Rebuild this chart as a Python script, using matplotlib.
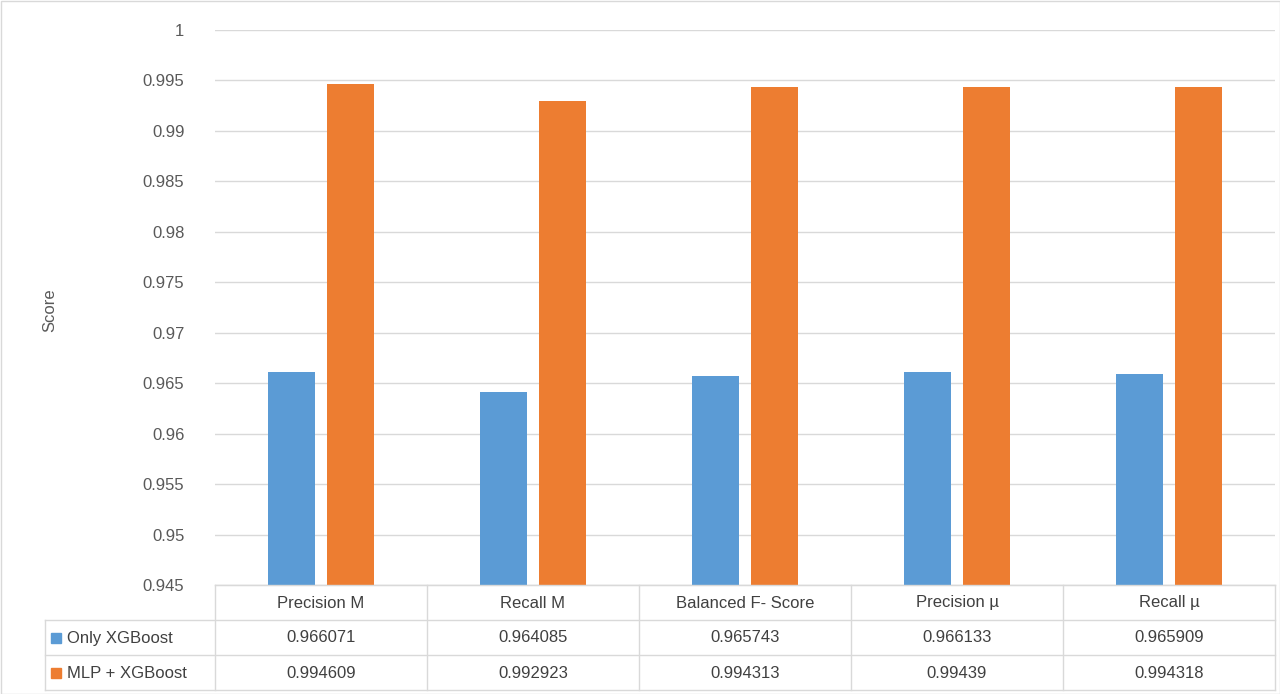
import matplotlib
matplotlib.use("Agg")
import matplotlib.pyplot as plt
import numpy as np

categories = ["Precision M", "Recall M", "Balanced F- Score", "Precision µ", "Recall µ"]
series_names = ["Only XGBoost", "MLP + XGBoost"]
xgb = [0.966071, 0.964085, 0.965743, 0.966133, 0.965909]
mlp = [0.994609, 0.992923, 0.994313, 0.99439, 0.994318]
xgb_txt = ["0.966071", "0.964085", "0.965743", "0.966133", "0.965909"]
mlp_txt = ["0.994609", "0.992923", "0.994313", "0.99439", "0.994318"]
colors = ["#5B9BD5", "#ED7D31"]
yticks = [0.945, 0.95, 0.955, 0.96, 0.965, 0.97, 0.975, 0.98, 0.985, 0.99, 0.995, 1]
ylabels = ["0.945", "0.95", "0.955", "0.96", "0.965", "0.97", "0.975", "0.98", "0.985", "0.99", "0.995", "1"]

W, H = 1280, 694
fig = plt.figure(figsize=(W/100, H/100), dpi=100)
plt.rcParams['font.family'] = ['Liberation Sans', 'DejaVu Sans']
L, R, T, B = 215, 1275, 30, 585
ax = fig.add_axes([L/W, 1-B/H, (R-L)/W, (B-T)/H])
x = np.arange(len(categories))
bw = 0.22
ax.bar(x - 0.14, xgb, bw, color=colors[0], zorder=3)
ax.bar(x + 0.14, mlp, bw, color=colors[1], zorder=3)
ax.set_xlim(-0.5, len(categories) - 0.5)
ax.set_ylim(0.945, 1.0)
ax.set_yticks(yticks)
ax.set_yticklabels(ylabels, fontsize=12, color="#595959")
ax.tick_params(axis='y', length=0, pad=22)
ax.set_xticks([])
ax.grid(axis='y', color="#D9D9D9", lw=1, zorder=0)
for s in ["top", "right", "left"]:
    ax.spines[s].set_visible(False)
ax.spines["bottom"].set_color("#D9D9D9")
fig.text(50/W, 1-310/H, "Score", rotation=90, ha='center', va='center', fontsize=12, color="#595959")

# data table
def fx(px): return px/W
def fy(py): return 1-py/H
lc = "#D9D9D9"
rows = [585, 620, 655, 690]
colx = [L + i*(R-L)/5 for i in range(6)]
for i, yy in enumerate(rows):
    x0 = L if i == 0 else 45
    fig.add_artist(plt.Line2D([fx(x0), fx(R)], [fy(yy), fy(yy)], color=lc, lw=1))
for cx in colx:
    fig.add_artist(plt.Line2D([fx(cx), fx(cx)], [fy(585), fy(690)], color=lc, lw=1))
fig.add_artist(plt.Line2D([fx(45), fx(45)], [fy(620), fy(690)], color=lc, lw=1))
for i, c in enumerate(categories):
    cx = (colx[i] + colx[i+1]) / 2
    fig.text(fx(cx), fy(603), c, ha='center', va='center', fontsize=12, color="#404040")
    fig.text(fx(cx), fy(638), xgb_txt[i], ha='center', va='center', fontsize=12, color="#404040")
    fig.text(fx(cx), fy(673), mlp_txt[i], ha='center', va='center', fontsize=12, color="#404040")
for j, (name, col) in enumerate(zip(series_names, colors)):
    yc = 638 + 35*j
    fig.add_artist(plt.Rectangle((fx(51), fy(yc+5)), 10/W, 10/H, color=col))
    fig.text(fx(67), fy(yc), name, ha='left', va='center', fontsize=12, color="#404040")

fig.add_artist(plt.Rectangle((0.5/W, 0.5/H), 1-1/W, 1-1/H, fill=False, ec="#D9D9D9", lw=1))
fig.savefig("out.png", dpi=100, facecolor="white")
